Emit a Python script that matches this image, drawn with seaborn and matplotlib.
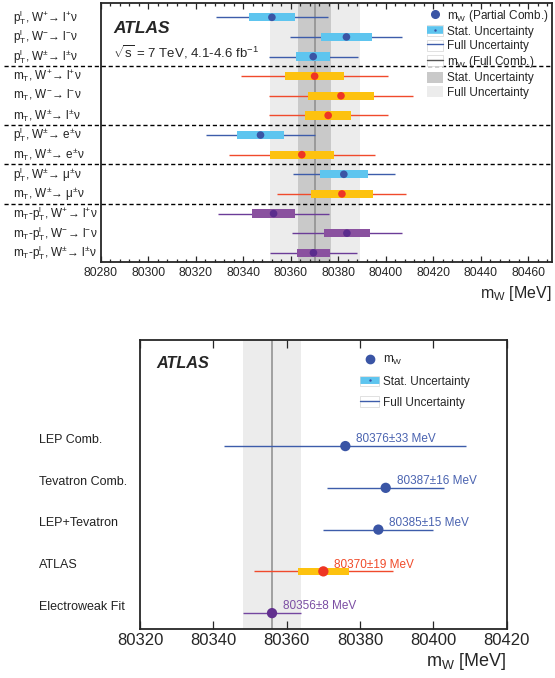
import numpy as np
import pandas as pd
import matplotlib
matplotlib.use("Agg")
import matplotlib.pyplot as plt
import matplotlib.transforms as mtransforms
from matplotlib.lines import Line2D
from matplotlib.patches import Patch
from matplotlib.ticker import MultipleLocator, NullLocator
import seaborn as sns

# ---------------- partial combinations per category (MeV) ----------------
cat_labels = [
    r"p$_{\mathrm{T}}^{\mathrm{l}}$, W$^{+}$→ l$^{+}$ν",
    r"p$_{\mathrm{T}}^{\mathrm{l}}$, W$^{-}$→ l$^{-}$ν",
    r"p$_{\mathrm{T}}^{\mathrm{l}}$, W$^{\pm}$→ l$^{\pm}$ν",
    r"m$_{\mathrm{T}}$, W$^{+}$→ l$^{+}$ν",
    r"m$_{\mathrm{T}}$, W$^{-}$→ l$^{-}$ν",
    r"m$_{\mathrm{T}}$, W$^{\pm}$→ l$^{\pm}$ν",
    r"p$_{\mathrm{T}}^{\mathrm{l}}$, W$^{\pm}$→ e$^{\pm}$ν",
    r"m$_{\mathrm{T}}$, W$^{\pm}$→ e$^{\pm}$ν",
    r"p$_{\mathrm{T}}^{\mathrm{l}}$, W$^{\pm}$→ μ$^{\pm}$ν",
    r"m$_{\mathrm{T}}$, W$^{\pm}$→ μ$^{\pm}$ν",
    r"m$_{\mathrm{T}}$-p$_{\mathrm{T}}^{\mathrm{l}}$, W$^{+}$→ l$^{+}$ν",
    r"m$_{\mathrm{T}}$-p$_{\mathrm{T}}^{\mathrm{l}}$, W$^{-}$→ l$^{-}$ν",
    r"m$_{\mathrm{T}}$-p$_{\mathrm{T}}^{\mathrm{l}}$, W$^{\pm}$→ l$^{\pm}$ν",
]
cat_value = [80352.0, 80383.4, 80369.4, 80370.0, 80381.1, 80375.7,
             80347.2, 80364.6, 80382.3, 80381.5, 80352.7, 80383.6, 80369.5]
cat_stat = [9.6, 10.8, 7.2, 12.3, 13.9, 9.6, 9.9, 13.5, 10.1, 13.0, 8.9, 9.7, 6.8]
cat_total = [23.5, 23.6, 18.7, 30.9, 30.5, 25.1, 23.1, 30.8, 21.4, 27.2, 23.2, 23.3, 18.5]
cat_kind = ["pt", "pt", "pt", "mt", "mt", "mt", "pt", "mt", "pt", "mt",
            "mtpt", "mtpt", "mtpt"]

# full combination
comb_value = 80370.0
comb_stat = 7.0
comb_total = 19.0

# ---------------- comparison with other determinations ----------------
cmp_labels = ["LEP Comb.", "Tevatron Comb.", "LEP+Tevatron", "ATLAS", "Electroweak Fit"]
cmp_value = [80376, 80387, 80385, 80370, 80356]
cmp_total = [33, 16, 15, 19, 8]
cmp_stat = [np.nan, np.nan, np.nan, 7, np.nan]
cmp_kind = ["pt", "pt", "pt", "mt", "ew"]

# ---------------- styling ----------------
sns.set_theme(style="ticks")
plt.rcParams["font.family"] = ["Liberation Sans", "DejaVu Sans"]
plt.rcParams["mathtext.fontset"] = "custom"
plt.rcParams["mathtext.rm"] = "Liberation Sans"
plt.rcParams["mathtext.it"] = "Liberation Sans:italic"
plt.rcParams["mathtext.bf"] = "Liberation Sans:bold"
plt.rcParams["mathtext.sf"] = "Liberation Sans"
plt.rcParams["axes.linewidth"] = 1.3

point_col = {"pt": "#3a55a5", "mt": "#ee3524", "mtpt": "#5b2c8d", "ew": "#62308f"}
stat_col = {"pt": "#5ec5ef", "mt": "#fdc20f", "mtpt": "#8a519f", "ew": "#8a519f"}
line_col = {"pt": "#3d5caa", "mt": "#f04a2c", "mtpt": "#6b3c98", "ew": "#7446a0"}
text_col = {"pt": "#4a63b0", "mt": "#f04b2b", "ew": "#7b4ea3"}
band_dark = "#c9c9c9"
band_light = "#ececec"
comb_line = "#8c8c8c"

fig = plt.figure(figsize=(5.55, 6.78), dpi=100)
W, H = 555.0, 678.0
ax1 = fig.add_axes([101 / W, 1 - 262 / H, 451 / W, 259 / H])
ax2 = fig.add_axes([140 / W, 1 - 629 / H, 366.7 / W, 289 / H])

# ================= upper panel: categories =================
df1 = pd.DataFrame({"label": cat_labels, "value": cat_value, "stat": cat_stat,
                    "total": cat_total, "kind": cat_kind})
df1["row"] = np.arange(len(df1))

ax1.axvspan(comb_value - comb_total, comb_value + comb_total, color=band_light, lw=0, zorder=0)
ax1.axvspan(comb_value - comb_stat, comb_value + comb_stat, color=band_dark, lw=0, zorder=0.5)
ax1.axvline(comb_value, color=comb_line, lw=1.1, zorder=1)

for _, r in df1.iterrows():
    ax1.hlines(r["row"], r["value"] - r["total"], r["value"] + r["total"],
               color=line_col[r["kind"]], lw=1.0, zorder=2)
    ax1.barh(r["row"], 2 * r["stat"], left=r["value"] - r["stat"], height=0.42,
             color=stat_col[r["kind"]], lw=0, zorder=3)

sns.scatterplot(data=df1, x="value", y="row", hue="kind", palette=point_col,
                s=30, edgecolor="none", legend=False, ax=ax1, zorder=4)

ax1.set_xlim(80280, 80470)
ax1.set_ylim(12.47, -0.73)
ax1.set_ylabel("")
ax1.set_yticks([])
ax1.xaxis.set_major_locator(MultipleLocator(20))
ax1.xaxis.set_minor_locator(MultipleLocator(4))
ax1.tick_params(axis="x", which="both", direction="in", top=True, bottom=True,
                labelsize=8.8, pad=3.5, width=0.9)
ax1.tick_params(axis="x", which="major", length=4.3)
ax1.tick_params(axis="x", which="minor", length=2.2)
ax1.set_xlabel(r"m$_{\mathrm{W}}$ [MeV]", fontsize=11.5)
ax1.xaxis.set_label_coords(1.0, -0.12)
ax1.xaxis.label.set_ha("right")
ax1.xaxis.label.set_va("center")

row_tr1 = mtransforms.blended_transform_factory(fig.transFigure, ax1.transData)
for _, r in df1.iterrows():
    ax1.text(13 / W, r["row"], r["label"], transform=row_tr1, ha="left",
             va="center", fontsize=8.5, color="#222222")

for ysep in [2.5, 5.5, 7.5, 9.5]:
    ax1.add_line(Line2D([4 / W, 552 / W], [ysep, ysep], transform=row_tr1,
                        color="black", lw=1.0, ls=(0, (3, 2)), clip_on=False, zorder=5))

ax1.text(0.027, 0.90, "ATLAS", transform=ax1.transAxes, fontsize=12.5,
         fontweight="bold", fontstyle="italic", va="center", ha="left")
ax1.text(0.027, 0.811, r"$\sqrt{\mathrm{s}}$ = 7 TeV, 4.1-4.6 fb$^{\mathrm{-1}}$",
         transform=ax1.transAxes, fontsize=9.5, va="center", ha="left")

frame = dict(facecolor="white", edgecolor="#dcdcdc", lw=0.6)
h_top = [
    Line2D([], [], marker="o", ls="none", color=point_col["pt"], markersize=5.5),
    (Patch(**frame), Line2D([], [], color=stat_col["pt"], lw=5.5, solid_capstyle="butt"),
     Line2D([], [], marker=".", ls="none", color=point_col["pt"], markersize=1.5)),
    (Patch(**frame), Line2D([], [], color=line_col["pt"], lw=1.0)),
    (Patch(**frame), Line2D([], [], color="#555555", lw=1.0)),
    Patch(facecolor=band_dark, edgecolor="none"),
    Patch(facecolor=band_light, edgecolor="none"),
]
l_top = [r"m$_{\mathrm{W}}$ (Partial Comb.)", "Stat. Uncertainty", "Full Uncertainty",
         r"m$_{\mathrm{W}}$ (Full Comb.)", "Stat. Uncertainty", "Full Uncertainty"]
leg1 = ax1.legend(h_top, l_top, loc="upper right", bbox_to_anchor=(0.992, 0.982),
                  frameon=False, fontsize=8.5, borderpad=0, borderaxespad=0,
                  handlelength=1.37, handleheight=1.05, handletextpad=0.3,
                  labelspacing=0.15)

# ================= lower panel: comparison =================
df2 = pd.DataFrame({"label": cmp_labels, "value": cmp_value, "stat": cmp_stat,
                    "total": cmp_total, "kind": cmp_kind})
df2["row"] = np.arange(len(df2))

ew = df2.iloc[-1]
ax2.axvspan(ew["value"] - ew["total"], ew["value"] + ew["total"], color=band_light, lw=0, zorder=0)
ax2.axvline(ew["value"], color=comb_line, lw=1.1, zorder=1)

for _, r in df2.iterrows():
    ax2.hlines(r["row"], r["value"] - r["total"], r["value"] + r["total"],
               color=line_col[r["kind"]], lw=1.0, zorder=2)
    if not np.isnan(r["stat"]):
        ax2.barh(r["row"], 2 * r["stat"], left=r["value"] - r["stat"], height=0.185,
                 color=stat_col[r["kind"]], lw=0, zorder=3)

sns.scatterplot(data=df2, x="value", y="row", hue="kind", palette=point_col,
                s=55, edgecolor="none", legend=False, ax=ax2, zorder=4)

for _, r in df2.iterrows():
    ax2.annotate(f"{r['value']}±{r['total']} MeV", xy=(r["value"], r["row"]),
                 xytext=(7.9, 4.8), textcoords="offset points", ha="left", va="center",
                 fontsize=8.5, color=text_col[r["kind"]], zorder=5)

row_tr2 = mtransforms.blended_transform_factory(fig.transFigure, ax2.transData)
for _, r in df2.iterrows():
    ax2.text(39.3 / W, r["row"] - 0.15, r["label"], transform=row_tr2, ha="left",
             va="center", fontsize=9, color="#222222")

ax2.set_xlim(80320, 80420)
ax2.set_ylim(4.38, -2.54)
ax2.set_ylabel("")
ax2.set_yticks([])
ax2.xaxis.set_major_locator(MultipleLocator(20))
ax2.xaxis.set_minor_locator(NullLocator())
ax2.tick_params(axis="x", which="major", direction="in", top=True, bottom=True,
                labelsize=12, pad=3, length=5.5, width=0.9)
ax2.set_xlabel(r"m$_{\mathrm{W}}$ [MeV]", fontsize=13)
ax2.xaxis.set_label_coords(1.0, -0.113)
ax2.xaxis.label.set_ha("right")
ax2.xaxis.label.set_va("center")

ax2.text(0.044, 0.92, "ATLAS", transform=ax2.transAxes, fontsize=11.7,
         fontweight="bold", fontstyle="italic", va="center", ha="left")

h_bot = [
    Line2D([], [], marker="o", ls="none", color=point_col["pt"], markersize=6),
    (Patch(**frame), Line2D([], [], color=stat_col["pt"], lw=5.0, solid_capstyle="butt"),
     Line2D([], [], marker=".", ls="none", color=point_col["pt"], markersize=1.5)),
    (Patch(**frame), Line2D([], [], color=line_col["pt"], lw=1.0)),
]
l_bot = [r"m$_{\mathrm{W}}$", "Stat. Uncertainty", "Full Uncertainty"]
ax2.legend(h_bot, l_bot, loc="upper left", bbox_to_anchor=(0.60, 0.952),
           frameon=False, fontsize=8.5, borderpad=0, borderaxespad=0,
           handlelength=1.63, handleheight=1.05, handletextpad=0.34,
           labelspacing=0.68)

fig.savefig("out.png", dpi=100)
